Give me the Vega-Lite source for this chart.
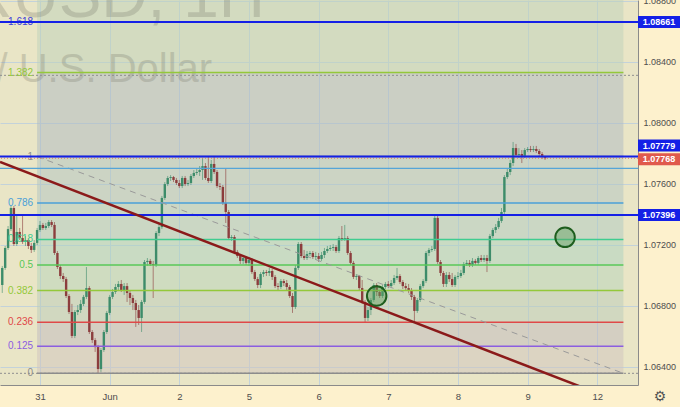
{
"$schema": "https://vega.github.io/schema/vega-lite/v6.json",
"width": 638,
"height": 385,
"autosize": {"type": "none"},
"padding": {"left": 0, "top": 0, "right": 42, "bottom": 22},
"background": "#fdf1cd",
"config": {
  "view": {"fill": "#e9e5c6", "stroke": null},
  "axis": {"labelFont": "Liberation Sans", "labelFontSize": 9, "labelColor": "#4d4d4d", "ticks": false, "gridColor": "#c3d2da", "gridWidth": 1, "domainColor": "#8a8a8a", "domainWidth": 1},
  "text": {"font": "Liberation Sans"}
},
"datasets": {
  "bands": [
    {"lvl": "1.382", "lo": 1.08330, "hi": 1.0895},
    {"lvl": "1", "lo": 1.07779, "hi": 1.08330},
    {"lvl": "0.786", "lo": 1.07475, "hi": 1.07779},
    {"lvl": "0.618", "lo": 1.07236, "hi": 1.07475},
    {"lvl": "0.5", "lo": 1.07069, "hi": 1.07236},
    {"lvl": "0.382", "lo": 1.06901, "hi": 1.07069},
    {"lvl": "0.236", "lo": 1.06693, "hi": 1.06901},
    {"lvl": "0.125", "lo": 1.06536, "hi": 1.06693},
    {"lvl": "0", "lo": 1.06358, "hi": 1.06536}
  ],
  "levels": [
    {"lvl": "0", "p": 1.06358},
    {"lvl": "0.125", "p": 1.06536},
    {"lvl": "0.236", "p": 1.06693},
    {"lvl": "0.382", "p": 1.06901},
    {"lvl": "0.5", "p": 1.07069},
    {"lvl": "0.618", "p": 1.07236},
    {"lvl": "0.786", "p": 1.07475},
    {"lvl": "1", "p": 1.07779},
    {"lvl": "1.382", "p": 1.08330},
    {"lvl": "1.618", "p": 1.08660}
  ],
  "candles": [
    {"t":-13,"o":1.06937,"h":1.07062,"l":1.06885,"c":1.07049},
    {"t":-12,"o":1.07049,"h":1.07193,"l":1.07036,"c":1.07180},
    {"t":-11,"o":1.07180,"h":1.07324,"l":1.07167,"c":1.07304},
    {"t":-10,"o":1.07304,"h":1.07455,"l":1.07291,"c":1.07442},
    {"t":-9,"o":1.07442,"h":1.07455,"l":1.07193,"c":1.07206},
    {"t":-8,"o":1.07206,"h":1.07396,"l":1.07193,"c":1.07285},
    {"t":-7,"o":1.07285,"h":1.07311,"l":1.07232,"c":1.07245},
    {"t":-6,"o":1.07245,"h":1.07390,"l":1.07206,"c":1.07219},
    {"t":-5,"o":1.07219,"h":1.07258,"l":1.07193,"c":1.07232},
    {"t":-4,"o":1.07232,"h":1.07245,"l":1.07173,"c":1.07193},
    {"t":-3,"o":1.07193,"h":1.07213,"l":1.07147,"c":1.07167},
    {"t":-2,"o":1.07167,"h":1.07232,"l":1.07154,"c":1.07213},
    {"t":-1,"o":1.07213,"h":1.07311,"l":1.07199,"c":1.07298},
    {"t":0,"o":1.07298,"h":1.07357,"l":1.07285,"c":1.07331},
    {"t":1,"o":1.07331,"h":1.07344,"l":1.07298,"c":1.07311},
    {"t":2,"o":1.07311,"h":1.07344,"l":1.07298,"c":1.07324},
    {"t":3,"o":1.07324,"h":1.07363,"l":1.07311,"c":1.07350},
    {"t":4,"o":1.07350,"h":1.07363,"l":1.07317,"c":1.07331},
    {"t":5,"o":1.07331,"h":1.07350,"l":1.07134,"c":1.07147},
    {"t":6,"o":1.07147,"h":1.07160,"l":1.07042,"c":1.07055},
    {"t":7,"o":1.07055,"h":1.07068,"l":1.06976,"c":1.06996},
    {"t":8,"o":1.06996,"h":1.07016,"l":1.06957,"c":1.06976},
    {"t":9,"o":1.06976,"h":1.06990,"l":1.06852,"c":1.06865},
    {"t":10,"o":1.06865,"h":1.06878,"l":1.06747,"c":1.06760},
    {"t":11,"o":1.06760,"h":1.06813,"l":1.06589,"c":1.06603},
    {"t":12,"o":1.06603,"h":1.06773,"l":1.06589,"c":1.06760},
    {"t":13,"o":1.06760,"h":1.06806,"l":1.06740,"c":1.06773},
    {"t":14,"o":1.06773,"h":1.06839,"l":1.06754,"c":1.06813},
    {"t":15,"o":1.06813,"h":1.06872,"l":1.06799,"c":1.06859},
    {"t":16,"o":1.06859,"h":1.07055,"l":1.06845,"c":1.06917},
    {"t":17,"o":1.06917,"h":1.06930,"l":1.06616,"c":1.06629},
    {"t":18,"o":1.06629,"h":1.06642,"l":1.06557,"c":1.06576},
    {"t":19,"o":1.06576,"h":1.06589,"l":1.06498,"c":1.06530},
    {"t":20,"o":1.06530,"h":1.06544,"l":1.06360,"c":1.06386},
    {"t":21,"o":1.06386,"h":1.06524,"l":1.06367,"c":1.06511},
    {"t":22,"o":1.06511,"h":1.06642,"l":1.06498,"c":1.06629},
    {"t":23,"o":1.06629,"h":1.06767,"l":1.06616,"c":1.06754},
    {"t":24,"o":1.06754,"h":1.06872,"l":1.06740,"c":1.06859},
    {"t":25,"o":1.06859,"h":1.06911,"l":1.06845,"c":1.06891},
    {"t":26,"o":1.06891,"h":1.06944,"l":1.06878,"c":1.06924},
    {"t":27,"o":1.06924,"h":1.06963,"l":1.06904,"c":1.06944},
    {"t":28,"o":1.06944,"h":1.06970,"l":1.06891,"c":1.06904},
    {"t":29,"o":1.06904,"h":1.06950,"l":1.06872,"c":1.06930},
    {"t":30,"o":1.06930,"h":1.06950,"l":1.06826,"c":1.06885},
    {"t":31,"o":1.06885,"h":1.06904,"l":1.06806,"c":1.06852},
    {"t":32,"o":1.06852,"h":1.06872,"l":1.06773,"c":1.06819},
    {"t":33,"o":1.06819,"h":1.06839,"l":1.06662,"c":1.06773},
    {"t":34,"o":1.06773,"h":1.06806,"l":1.06675,"c":1.06721},
    {"t":35,"o":1.06721,"h":1.06839,"l":1.06629,"c":1.06826},
    {"t":36,"o":1.06826,"h":1.07101,"l":1.06813,"c":1.07088},
    {"t":37,"o":1.07088,"h":1.07114,"l":1.07062,"c":1.07095},
    {"t":38,"o":1.07095,"h":1.07108,"l":1.07062,"c":1.07075},
    {"t":39,"o":1.07075,"h":1.07095,"l":1.06852,"c":1.07068},
    {"t":40,"o":1.07068,"h":1.07291,"l":1.07055,"c":1.07278},
    {"t":41,"o":1.07278,"h":1.07337,"l":1.07258,"c":1.07317},
    {"t":42,"o":1.07317,"h":1.07521,"l":1.07304,"c":1.07508},
    {"t":43,"o":1.07508,"h":1.07612,"l":1.07495,"c":1.07599},
    {"t":44,"o":1.07599,"h":1.07652,"l":1.07586,"c":1.07639},
    {"t":45,"o":1.07639,"h":1.07658,"l":1.07619,"c":1.07645},
    {"t":46,"o":1.07645,"h":1.07652,"l":1.07612,"c":1.07626},
    {"t":47,"o":1.07626,"h":1.07639,"l":1.07593,"c":1.07606},
    {"t":48,"o":1.07606,"h":1.07626,"l":1.07573,"c":1.07586},
    {"t":49,"o":1.07586,"h":1.07652,"l":1.07573,"c":1.07639},
    {"t":50,"o":1.07639,"h":1.07652,"l":1.07586,"c":1.07599},
    {"t":51,"o":1.07599,"h":1.07626,"l":1.07586,"c":1.07606},
    {"t":52,"o":1.07606,"h":1.07665,"l":1.07593,"c":1.07652},
    {"t":53,"o":1.07652,"h":1.07691,"l":1.07639,"c":1.07672},
    {"t":54,"o":1.07672,"h":1.07698,"l":1.07658,"c":1.07678},
    {"t":55,"o":1.07678,"h":1.07717,"l":1.07652,"c":1.07691},
    {"t":56,"o":1.07691,"h":1.07770,"l":1.07626,"c":1.07717},
    {"t":57,"o":1.07717,"h":1.07737,"l":1.07626,"c":1.07639},
    {"t":58,"o":1.07639,"h":1.07777,"l":1.07606,"c":1.07619},
    {"t":59,"o":1.07619,"h":1.07757,"l":1.07606,"c":1.07731},
    {"t":60,"o":1.07731,"h":1.07777,"l":1.07665,"c":1.07678},
    {"t":61,"o":1.07678,"h":1.07691,"l":1.07573,"c":1.07586},
    {"t":62,"o":1.07586,"h":1.07606,"l":1.07560,"c":1.07580},
    {"t":63,"o":1.07580,"h":1.07593,"l":1.07462,"c":1.07475},
    {"t":64,"o":1.07475,"h":1.07704,"l":1.07344,"c":1.07416},
    {"t":65,"o":1.07416,"h":1.07429,"l":1.07232,"c":1.07245},
    {"t":66,"o":1.07245,"h":1.07265,"l":1.07226,"c":1.07252},
    {"t":67,"o":1.07252,"h":1.07265,"l":1.07140,"c":1.07154},
    {"t":68,"o":1.07154,"h":1.07167,"l":1.07114,"c":1.07127},
    {"t":69,"o":1.07127,"h":1.07140,"l":1.07075,"c":1.07095},
    {"t":70,"o":1.07095,"h":1.07127,"l":1.07075,"c":1.07114},
    {"t":71,"o":1.07114,"h":1.07127,"l":1.07068,"c":1.07082},
    {"t":72,"o":1.07082,"h":1.07121,"l":1.07062,"c":1.07101},
    {"t":73,"o":1.07101,"h":1.07114,"l":1.07009,"c":1.07022},
    {"t":74,"o":1.07022,"h":1.07036,"l":1.06963,"c":1.06976},
    {"t":75,"o":1.06976,"h":1.06990,"l":1.06917,"c":1.06937},
    {"t":76,"o":1.06937,"h":1.07022,"l":1.06917,"c":1.07009},
    {"t":77,"o":1.07009,"h":1.07036,"l":1.06990,"c":1.07022},
    {"t":78,"o":1.07022,"h":1.07036,"l":1.06996,"c":1.07016},
    {"t":79,"o":1.07016,"h":1.07049,"l":1.06996,"c":1.07029},
    {"t":80,"o":1.07029,"h":1.07042,"l":1.06970,"c":1.06990},
    {"t":81,"o":1.06990,"h":1.07003,"l":1.06917,"c":1.06930},
    {"t":82,"o":1.06930,"h":1.06950,"l":1.06904,"c":1.06924},
    {"t":83,"o":1.06924,"h":1.06976,"l":1.06911,"c":1.06963},
    {"t":84,"o":1.06963,"h":1.06976,"l":1.06930,"c":1.06950},
    {"t":85,"o":1.06950,"h":1.06970,"l":1.06904,"c":1.06924},
    {"t":86,"o":1.06924,"h":1.06937,"l":1.06852,"c":1.06865},
    {"t":87,"o":1.06865,"h":1.06885,"l":1.06754,"c":1.06793},
    {"t":88,"o":1.06793,"h":1.07068,"l":1.06780,"c":1.07049},
    {"t":89,"o":1.07049,"h":1.07219,"l":1.07036,"c":1.07206},
    {"t":90,"o":1.07206,"h":1.07219,"l":1.07114,"c":1.07127},
    {"t":91,"o":1.07127,"h":1.07167,"l":1.07101,"c":1.07114},
    {"t":92,"o":1.07114,"h":1.07160,"l":1.07101,"c":1.07140},
    {"t":93,"o":1.07140,"h":1.07160,"l":1.07127,"c":1.07147},
    {"t":94,"o":1.07147,"h":1.07160,"l":1.07108,"c":1.07121},
    {"t":95,"o":1.07121,"h":1.07154,"l":1.07101,"c":1.07127},
    {"t":96,"o":1.07127,"h":1.07147,"l":1.07088,"c":1.07108},
    {"t":97,"o":1.07108,"h":1.07154,"l":1.07095,"c":1.07134},
    {"t":98,"o":1.07134,"h":1.07180,"l":1.07114,"c":1.07160},
    {"t":99,"o":1.07160,"h":1.07193,"l":1.07147,"c":1.07173},
    {"t":100,"o":1.07173,"h":1.07199,"l":1.07160,"c":1.07180},
    {"t":101,"o":1.07180,"h":1.07206,"l":1.07160,"c":1.07186},
    {"t":102,"o":1.07186,"h":1.07199,"l":1.07147,"c":1.07160},
    {"t":103,"o":1.07160,"h":1.07258,"l":1.07147,"c":1.07245},
    {"t":104,"o":1.07245,"h":1.07324,"l":1.07226,"c":1.07239},
    {"t":105,"o":1.07239,"h":1.07331,"l":1.07226,"c":1.07245},
    {"t":106,"o":1.07245,"h":1.07258,"l":1.07134,"c":1.07147},
    {"t":107,"o":1.07147,"h":1.07160,"l":1.07068,"c":1.07082},
    {"t":108,"o":1.07082,"h":1.07095,"l":1.06976,"c":1.06990},
    {"t":109,"o":1.06990,"h":1.07009,"l":1.06970,"c":1.06996},
    {"t":110,"o":1.06996,"h":1.07003,"l":1.06904,"c":1.06917},
    {"t":111,"o":1.06917,"h":1.06970,"l":1.06813,"c":1.06826},
    {"t":112,"o":1.06826,"h":1.06839,"l":1.06688,"c":1.06721},
    {"t":113,"o":1.06721,"h":1.06793,"l":1.06701,"c":1.06773},
    {"t":114,"o":1.06773,"h":1.06852,"l":1.06740,"c":1.06839},
    {"t":115,"o":1.06839,"h":1.06950,"l":1.06826,"c":1.06937},
    {"t":116,"o":1.06937,"h":1.06950,"l":1.06865,"c":1.06891},
    {"t":117,"o":1.06891,"h":1.06904,"l":1.06852,"c":1.06865},
    {"t":118,"o":1.06865,"h":1.06937,"l":1.06852,"c":1.06924},
    {"t":119,"o":1.06924,"h":1.06957,"l":1.06911,"c":1.06944},
    {"t":120,"o":1.06944,"h":1.06963,"l":1.06917,"c":1.06930},
    {"t":121,"o":1.06930,"h":1.06970,"l":1.06917,"c":1.06950},
    {"t":122,"o":1.06950,"h":1.07003,"l":1.06937,"c":1.06983},
    {"t":123,"o":1.06983,"h":1.07049,"l":1.06970,"c":1.06996},
    {"t":124,"o":1.06996,"h":1.07009,"l":1.06944,"c":1.06957},
    {"t":125,"o":1.06957,"h":1.06970,"l":1.06911,"c":1.06930},
    {"t":126,"o":1.06930,"h":1.06950,"l":1.06904,"c":1.06917},
    {"t":127,"o":1.06917,"h":1.06944,"l":1.06885,"c":1.06904},
    {"t":128,"o":1.06904,"h":1.06917,"l":1.06839,"c":1.06859},
    {"t":129,"o":1.06859,"h":1.06872,"l":1.06694,"c":1.06767},
    {"t":130,"o":1.06767,"h":1.06852,"l":1.06754,"c":1.06839},
    {"t":131,"o":1.06839,"h":1.06944,"l":1.06826,"c":1.06930},
    {"t":132,"o":1.06930,"h":1.06976,"l":1.06917,"c":1.06963},
    {"t":133,"o":1.06963,"h":1.07160,"l":1.06950,"c":1.07147},
    {"t":134,"o":1.07147,"h":1.07180,"l":1.07127,"c":1.07167},
    {"t":135,"o":1.07167,"h":1.07193,"l":1.07154,"c":1.07173},
    {"t":136,"o":1.07173,"h":1.07396,"l":1.07160,"c":1.07377},
    {"t":137,"o":1.07377,"h":1.07390,"l":1.07075,"c":1.07088},
    {"t":138,"o":1.07088,"h":1.07101,"l":1.06996,"c":1.07016},
    {"t":139,"o":1.07016,"h":1.07029,"l":1.06924,"c":1.06944},
    {"t":140,"o":1.06944,"h":1.07022,"l":1.06924,"c":1.07003},
    {"t":141,"o":1.07003,"h":1.07022,"l":1.06957,"c":1.06976},
    {"t":142,"o":1.06976,"h":1.07016,"l":1.06924,"c":1.06937},
    {"t":143,"o":1.06937,"h":1.07003,"l":1.06924,"c":1.06990},
    {"t":144,"o":1.06990,"h":1.07022,"l":1.06976,"c":1.06996},
    {"t":145,"o":1.06996,"h":1.07036,"l":1.06983,"c":1.07016},
    {"t":146,"o":1.07016,"h":1.07088,"l":1.07003,"c":1.07075},
    {"t":147,"o":1.07075,"h":1.07101,"l":1.07062,"c":1.07082},
    {"t":148,"o":1.07082,"h":1.07101,"l":1.07055,"c":1.07068},
    {"t":149,"o":1.07068,"h":1.07114,"l":1.07055,"c":1.07095},
    {"t":150,"o":1.07095,"h":1.07108,"l":1.07068,"c":1.07082},
    {"t":151,"o":1.07082,"h":1.07127,"l":1.07068,"c":1.07114},
    {"t":152,"o":1.07114,"h":1.07134,"l":1.07088,"c":1.07101},
    {"t":153,"o":1.07101,"h":1.07134,"l":1.07088,"c":1.07114},
    {"t":154,"o":1.07114,"h":1.07134,"l":1.07022,"c":1.07095},
    {"t":155,"o":1.07095,"h":1.07272,"l":1.07082,"c":1.07258},
    {"t":156,"o":1.07258,"h":1.07311,"l":1.07245,"c":1.07298},
    {"t":157,"o":1.07298,"h":1.07337,"l":1.07278,"c":1.07317},
    {"t":158,"o":1.07317,"h":1.07377,"l":1.07304,"c":1.07357},
    {"t":159,"o":1.07357,"h":1.07442,"l":1.07344,"c":1.07416},
    {"t":160,"o":1.07416,"h":1.07658,"l":1.07403,"c":1.07645},
    {"t":161,"o":1.07645,"h":1.07698,"l":1.07632,"c":1.07678},
    {"t":162,"o":1.07678,"h":1.07757,"l":1.07658,"c":1.07737},
    {"t":163,"o":1.07737,"h":1.07875,"l":1.07717,"c":1.07835},
    {"t":164,"o":1.07835,"h":1.07862,"l":1.07777,"c":1.07790},
    {"t":165,"o":1.07790,"h":1.07835,"l":1.07770,"c":1.07796},
    {"t":166,"o":1.07796,"h":1.07822,"l":1.07737,"c":1.07783},
    {"t":167,"o":1.07783,"h":1.07835,"l":1.07770,"c":1.07822},
    {"t":168,"o":1.07822,"h":1.07842,"l":1.07809,"c":1.07829},
    {"t":169,"o":1.07829,"h":1.07849,"l":1.07809,"c":1.07822},
    {"t":170,"o":1.07822,"h":1.07849,"l":1.07809,"c":1.07829},
    {"t":171,"o":1.07829,"h":1.07849,"l":1.07803,"c":1.07816},
    {"t":172,"o":1.07816,"h":1.07829,"l":1.07783,"c":1.07796},
    {"t":173,"o":1.07796,"h":1.07809,"l":1.07763,"c":1.07777},
    {"t":174,"o":1.07777,"h":1.07783,"l":1.07757,"c":1.07768}
  ]
},
"layer": [
  {
    "data": {"name": "bands"},
    "mark": {"type": "rect", "fillOpacity": 0.5, "clip": true},
    "encoding": {
      "x": {"datum": -1, "type": "quantitative"},
      "x2": {"datum": 201},
      "y": {"field": "lo", "type": "quantitative", "title": null},
      "y2": {"field": "hi"},
      "fill": {"field": "lvl", "type": "nominal", "legend": null,
        "scale": {"domain": ["1.382", "1", "0.786", "0.618", "0.5", "0.382", "0.236", "0.125", "0"],
                  "range": ["#bdd1ba", "#adb9c2", "#afc3c2", "#adc9c2", "#a9d1c0", "#b5d3ba", "#b9cbba", "#bfb9be", "#cfc3be"]}}
    }
  },
  {
    "data": {"values": [{"t": 77.5, "p": 1.08695, "txt": "EURUSD, 1H"}]},
    "mark": {"type": "text", "align": "right", "baseline": "alphabetic", "fontSize": 64, "fill": "#7a7a6c", "opacity": 0.28},
    "encoding": {
      "x": {"field": "t", "type": "quantitative", "title": null},
      "y": {"field": "p", "type": "quantitative", "title": null},
      "text": {"field": "txt"}
    }
  },
  {
    "data": {"values": [{"t": 59.3, "p": 1.08268, "txt": "Euro / U.S. Dollar"}]},
    "mark": {"type": "text", "align": "right", "baseline": "alphabetic", "fontSize": 40, "fill": "#7a7a6c", "opacity": 0.28},
    "encoding": {
      "x": {"field": "t", "type": "quantitative", "title": null},
      "y": {"field": "p", "type": "quantitative", "title": null},
      "text": {"field": "txt"}
    }
  },
  {
    "data": {"values": [{"p": 1.08312}, {"p": 1.06358}]},
    "mark": {"type": "rule", "color": "#8f8f8f", "strokeWidth": 1, "strokeDash": [2, 2]},
    "encoding": {"y": {"field": "p", "type": "quantitative", "title": null}}
  },
  {
    "data": {"name": "candles"},
    "mark": {"type": "rule", "strokeWidth": 1, "opacity": 0.6},
    "encoding": {
      "x": {"field": "t", "type": "quantitative",
        "scale": {"domain": [-13.78, 206.03], "nice": false, "zero": false, "padding": 0},
        "axis": {"orient": "bottom", "title": null, "values": [0, 24, 48, 72, 96, 120, 144, 168, 192],
          "labelExpr": "['31','Jun','2','5','6','7','8','9','12'][round(datum.value/24)]",
          "labelPadding": 6, "grid": true, "labelFontSize": 9.5}},
      "y": {"field": "l", "type": "quantitative",
        "scale": {"domain": [1.062814, 1.08806], "nice": false, "zero": false, "padding": 0},
        "axis": {"orient": "right", "title": null, "values": [1.064, 1.066, 1.068, 1.07, 1.072, 1.074, 1.076, 1.078, 1.08, 1.082, 1.084, 1.086, 1.088],
          "format": ".5f", "labelPadding": 5, "grid": true}},
      "y2": {"field": "h"},
      "color": {"condition": {"test": "datum.c >= datum.o", "value": "#3d8c6a"}, "value": "#8c3d3d"}
    }
  },
  {
    "data": {"name": "candles"},
    "mark": {"type": "bar", "width": 2.4},
    "encoding": {
      "x": {"field": "t", "type": "quantitative", "title": null},
      "y": {"field": "o", "type": "quantitative", "title": null},
      "y2": {"field": "c"},
      "color": {"condition": {"test": "datum.c >= datum.o", "value": "#3d8c6a"}, "value": "#8c3d3d"}
    }
  },
  {
    "data": {"name": "levels"},
    "mark": {"type": "rule", "strokeWidth": 1.5},
    "encoding": {
      "x": {"datum": -1, "type": "quantitative"},
      "x2": {"datum": 201},
      "y": {"field": "p", "type": "quantitative", "title": null},
      "color": {"field": "lvl", "type": "nominal", "legend": null,
        "scale": {"domain": ["0", "0.125", "0.236", "0.382", "0.5", "0.618", "0.786", "1", "1.382", "1.618"],
                  "range": ["#8c8c8c", "#8c5ee0", "#e04848", "#94c83a", "#58c858", "#40cc90", "#4aa0d8", "#8c8c8c", "#94c83a", "#3b3bd9"]}}
    }
  },
  {
    "data": {"name": "levels"},
    "mark": {"type": "text", "align": "right", "baseline": "middle", "dx": -4, "fontSize": 10},
    "encoding": {
      "x": {"datum": -1, "type": "quantitative"},
      "y": {"field": "p", "type": "quantitative", "title": null},
      "text": {"field": "lvl"},
      "color": {"field": "lvl", "type": "nominal", "legend": null}
    }
  },
  {
    "data": {"values": [{"t": -1, "p": 1.07779}, {"t": 201, "p": 1.06358}]},
    "mark": {"type": "line", "color": "#9a9a9a", "strokeWidth": 1, "strokeDash": [6, 5]},
    "encoding": {
      "x": {"field": "t", "type": "quantitative", "title": null},
      "y": {"field": "p", "type": "quantitative", "title": null}
    }
  },
  {
    "data": {"values": [{"p": 1.07702}]},
    "mark": {"type": "rule", "color": "#55a5d8", "strokeWidth": 1.2},
    "encoding": {"y": {"field": "p", "type": "quantitative", "title": null}}
  },
  {
    "data": {"values": [{"p": 1.07768}]},
    "mark": {"type": "rule", "color": "#e08060", "strokeWidth": 1, "strokeDash": [1, 2]},
    "encoding": {"y": {"field": "p", "type": "quantitative", "title": null}}
  },
  {
    "data": {"values": [{"p": 1.08661}, {"p": 1.07779}, {"p": 1.07396}]},
    "mark": {"type": "rule", "color": "#1420e6", "strokeWidth": 2},
    "encoding": {"y": {"field": "p", "type": "quantitative", "title": null}}
  },
  {
    "data": {"values": [{"t": -13.78, "p": 1.07744}, {"t": 193, "p": 1.06221}]},
    "mark": {"type": "line", "color": "#8b1a1a", "strokeWidth": 2.5, "clip": true},
    "encoding": {
      "x": {"field": "t", "type": "quantitative", "title": null},
      "y": {"field": "p", "type": "quantitative", "title": null}
    }
  },
  {
    "data": {"values": [{"t": 180.9, "p": 1.0725}, {"t": 116.0, "p": 1.06865}]},
    "mark": {"type": "point", "shape": "circle", "size": 380, "filled": true, "fill": "#5e9e5e", "fillOpacity": 0.45, "stroke": "#1e5e1e", "strokeWidth": 2, "strokeOpacity": 1},
    "encoding": {
      "x": {"field": "t", "type": "quantitative", "title": null},
      "y": {"field": "p", "type": "quantitative", "title": null}
    }
  },
  {
    "data": {"values": [{"p": 1.08661, "lab": "1.08661"}, {"p": 1.07396, "lab": "1.07396"}]},
    "mark": {"type": "rect", "fill": "#1420e6", "yOffset": -6, "y2Offset": 6},
    "encoding": {
      "x": {"datum": 206.03, "type": "quantitative"},
      "x2": {"datum": 220.6},
      "y": {"field": "p", "type": "quantitative", "title": null},
      "y2": {"field": "p"}
    }
  },
  {
    "data": {"values": [{"p": 1.07779, "lab": "1.07779"}]},
    "mark": {"type": "rect", "fill": "#1420e6", "yOffset": -17, "y2Offset": -5},
    "encoding": {
      "x": {"datum": 206.03, "type": "quantitative"},
      "x2": {"datum": 220.6},
      "y": {"field": "p", "type": "quantitative", "title": null},
      "y2": {"field": "p"}
    }
  },
  {
    "data": {"values": [{"p": 1.07768, "lab": "1.07768"}]},
    "mark": {"type": "rect", "fill": "#e05a4c", "yOffset": -5, "y2Offset": 7},
    "encoding": {
      "x": {"datum": 206.03, "type": "quantitative"},
      "x2": {"datum": 220.6},
      "y": {"field": "p", "type": "quantitative", "title": null},
      "y2": {"field": "p"}
    }
  },
  {
    "data": {"values": [{"p": 1.08661, "lab": "1.08661"}, {"p": 1.07396, "lab": "1.07396"}]},
    "mark": {"type": "text", "fill": "white", "fontSize": 9, "fontWeight": "bold", "align": "center", "baseline": "middle", "dx": 21},
    "encoding": {
      "x": {"datum": 206.03, "type": "quantitative"},
      "y": {"field": "p", "type": "quantitative", "title": null},
      "text": {"field": "lab"}
    }
  },
  {
    "data": {"values": [{"p": 1.07779, "lab": "1.07779"}]},
    "mark": {"type": "text", "fill": "white", "fontSize": 9, "fontWeight": "bold", "align": "center", "baseline": "middle", "dx": 21, "dy": -11},
    "encoding": {
      "x": {"datum": 206.03, "type": "quantitative"},
      "y": {"field": "p", "type": "quantitative", "title": null},
      "text": {"field": "lab"}
    }
  },
  {
    "data": {"values": [{"p": 1.07768, "lab": "1.07768"}]},
    "mark": {"type": "text", "fill": "white", "fontSize": 9, "fontWeight": "bold", "align": "center", "baseline": "middle", "dx": 21, "dy": 1},
    "encoding": {
      "x": {"datum": 206.03, "type": "quantitative"},
      "y": {"field": "p", "type": "quantitative", "title": null},
      "text": {"field": "lab"}
    }
  },
  {
    "data": {"values": [{"t": 213.6, "p": 1.06203, "g": "⚙"}]},
    "mark": {"type": "text", "fontSize": 14, "fill": "#555555", "align": "center", "baseline": "middle", "font": "DejaVu Sans"},
    "encoding": {
      "x": {"field": "t", "type": "quantitative", "title": null},
      "y": {"field": "p", "type": "quantitative", "title": null},
      "text": {"field": "g"}
    }
  }
]
}
